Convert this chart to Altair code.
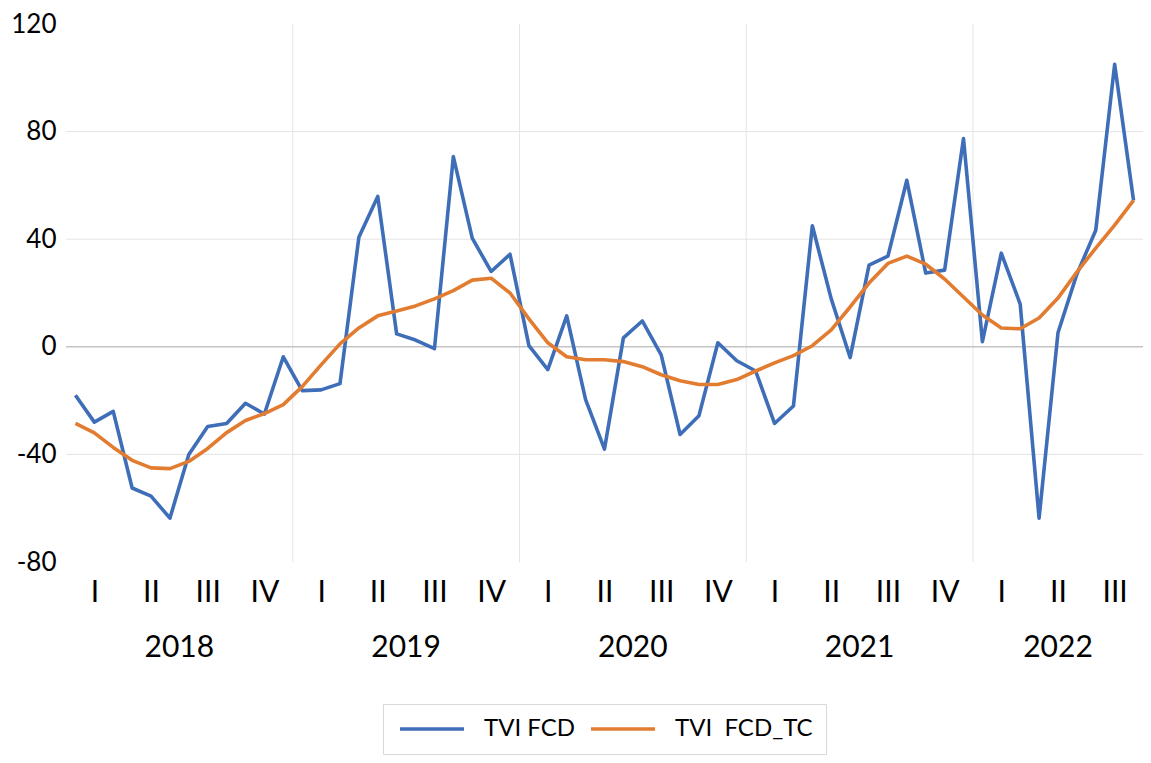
import altair as alt
import pandas as pd

# ---- data (monthly, Jan 2018 .. Sep 2022) ----
years = ["2018", "2019", "2020", "2021", "2022"]
quarter_names = ["I", "II", "III", "IV"]
series_names = ["TVI FCD", "TVI  FCD_TC"]

tvi_fcd = [
    -18, -28, -24, -52.5, -55.5, -63.7, -40, -29.6, -28.5, -21, -25, -3.7,
    -16.3, -16, -13.7, 40.7, 55.9, 4.8, 2.5, -0.7, 70.7, 40.4, 28, 34.4,
    0.4, -8.5, 11.5, -19.6, -38, 3.3, 9.6, -3, -32.6, -25.6, 1.5, -5.2,
    -9, -28.5, -22, 45, 17.8, -4, 30.4, 33.7, 61.9, 27.4, 28.5, 77.4,
    1.9, 34.8, 15.9, -63.7, 5.2, 27, 43.3, 105, 54.4,
]
tvi_fcd_tc = [
    -28.5, -32, -37.4, -42.2, -45, -45.3, -42.6, -37.8, -31.9, -27.4, -24.8, -21.5,
    -14.8, -6.7, 1.1, 7, 11.5, 13.3, 15.2, 17.8, 20.9, 24.8, 25.5, 20,
    10.4, 1.5, -3.7, -4.8, -4.8, -5.5, -7.4, -10.4, -12.6, -14, -14, -12.2,
    -9, -6, -3.3, 0.4, 6.3, 14.8, 23.7, 31, 33.7, 30.7, 25.2, 18.5,
    11.8, 7, 6.7, 10.7, 18.1, 27.8, 36.7, 45.2, 54.4,
]
y_ticks = [-80, -40, 0, 40, 80, 120]
grid_values = [-40, 40, 80]

n_months = len(tvi_fcd)
n_quarters = (n_months + 2) // 3

# ---- tables built from the lists ----
rows = []
for name, vals in zip(series_names, [tvi_fcd, tvi_fcd_tc]):
    for i, v in enumerate(vals):
        rows.append({"t": i + 0.5, "value": v, "series": name})
df = pd.DataFrame(rows)

year_rows = []
for k, yr in enumerate(years):
    start = 12 * k
    end = min(12 * (k + 1), n_months)
    year_rows.append({"t": (start + end) / 2, "year": yr})
year_df = pd.DataFrame(year_rows)

vgrid_df = pd.DataFrame({"t": [12 * k for k in range(1, len(years))]})
hgrid_df = pd.DataFrame({"value": grid_values})
zero_df = pd.DataFrame({"value": [0]})

quarter_centers = [3 * q + 1.5 for q in range(n_quarters)]
q_array = "[" + ",".join("'%s'" % q for q in quarter_names) + "]"
label_expr = q_array + "[floor(datum.value / 3) % 4]"

FONT = "Lato"
BLUE = "#3F6EB8"
ORANGE = "#E27C30"

x_enc = alt.X(
    "t:Q",
    scale=alt.Scale(domain=[0, n_months], nice=False, zero=False),
    axis=alt.Axis(
        values=quarter_centers, labelExpr=label_expr, grid=False, domain=False,
        ticks=False, tickSize=0, labelFontSize=30, labelFont=FONT,
        labelColor="black", labelPadding=15, title=None, labelOverlap=False,
        labelFlush=False,
    ),
)
y_enc = alt.Y(
    "value:Q",
    scale=alt.Scale(domain=[-80, 120], nice=False, zero=False),
    axis=alt.Axis(
        values=y_ticks, grid=False, domain=False, ticks=False, tickSize=0,
        labelFontSize=26, labelFont=FONT, labelColor="black", labelPadding=10,
        labelExpr="replace(datum.label, '\u2212', '-')",
        title=None,
    ),
)

hgrid = alt.Chart(hgrid_df).mark_rule(color="#e4e4e4", strokeWidth=1).encode(y=y_enc)
vgrid = alt.Chart(vgrid_df).mark_rule(color="#e4e4e4", strokeWidth=1).encode(x=x_enc)
zero = alt.Chart(zero_df).mark_rule(color="#c4c4c4", strokeWidth=1.5).encode(y=y_enc)

lines = alt.Chart(df).mark_line(strokeWidth=3.6, strokeJoin="round").encode(
    x=x_enc,
    y=y_enc,
    color=alt.Color(
        "series:N",
        scale=alt.Scale(domain=series_names, range=[BLUE, ORANGE]),
        legend=alt.Legend(
            orient="none", legendX=317, legendY=680, direction="horizontal",
            title=None, symbolType="M-1,0H7", symbolSize=256,
            symbolStrokeWidth=3.6, labelFontSize=24, labelFont=FONT,
            labelColor="black", labelLimit=400, padding=13,
            strokeColor="#d9d9d9", fillColor="white", columnPadding=8,
            labelOffset=64,
            labelExpr="replace(datum.label, '  ', ' \u00a0')",
        ),
    ),
    order=alt.Order("t:Q"),
)

year_text = alt.Chart(year_df).mark_text(
    fontSize=30, font=FONT, color="black", baseline="middle", align="center"
).encode(x=x_enc, y=alt.value(624), text="year:N")

chart = (
    alt.layer(hgrid, vgrid, zero, lines, year_text)
    .properties(
        width=1077,
        height=538,
        autosize=alt.AutoSizeParams(type="none"),
        padding={"left": 58, "top": 16, "right": 0, "bottom": 193},
    )
    .configure_view(stroke=None)
)

chart.save("out.html", embed_options={"renderer": "svg", "actions": False})
